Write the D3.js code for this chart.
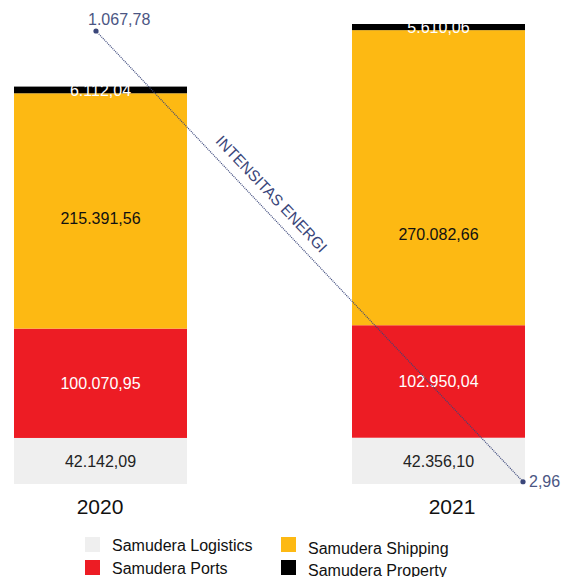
<!DOCTYPE html>
<html>
<head>
<meta charset="utf-8">
<script src="https://cdn.jsdelivr.net/npm/d3@7"></script>
<style>
body { margin: 0; background: #fff; }
svg { display: block; font-family: "Liberation Sans", Arial, sans-serif; }
</style>
</head>
<body>
<svg width="563" height="577"></svg>
<script>
"use strict"

var years     = ["2020", "2021"];
var segments  = ["Samudera Logistics", "Samudera Ports", "Samudera Shipping", "Samudera Property"];
var logistics = [42142.09, 42356.10];
var ports     = [100070.95, 102950.04];
var shipping  = [215391.56, 270082.66];
var property  = [6112.04, 5610.06];
var intensity = [1067.78, 2.96];

var segColors  = ["#efefef", "#ed1c24", "#fdb913", "#000000"];
var labColors  = ["#222", "#fff", "#111", "#fff"];
var lineColor  = "#3a467a";

// where the shipping label sits inside its segment (share of height from the bottom)
var shipLabelAt = [0.47, 0.31];

function fmt(v) {
	var parts = v.toFixed(2).split(".");
	return parts[0].replace(/\B(?=(\d{3})+(?!\d))/g, ".") + "," + parts[1];
}

var svg = d3.select("svg");

// two bars of ~173px with a wide gap
var x = d3.scaleBand().domain(years).range([14, 525]).paddingInner(165 / 338).paddingOuter(0);
var y = d3.scaleLinear().domain([0, 421000]).range([484, 24]);

var rows = years.map(function(yr, i) {
	var r = { year: yr };
	r[segments[0]] = logistics[i];
	r[segments[1]] = ports[i];
	r[segments[2]] = shipping[i];
	r[segments[3]] = property[i];
	return r;
});

var stack = d3.stack().keys(segments)(rows);

var layers = svg.append("g")
	.selectAll("g")
	.data(stack)
	.enter()
	.append("g")
	.style("fill", function(d, i){ return segColors[i]; });

layers.selectAll("rect")
	.data(function(d){ return d; })
	.enter()
	.append("rect")
	.attr("x", function(d){ return x(d.data.year); })
	.attr("width", x.bandwidth())
	.attr("y", function(d){ return y(d[1]); })
	.attr("height", function(d){ return y(d[0]) - y(d[1]); });

// value labels inside the segments
stack.forEach(function(layer, li) {
	svg.append("g")
	  .selectAll("text")
	  .data(layer)
	  .enter()
	  .append("text")
	  .attr("x", function(d){ return x(d.data.year) + x.bandwidth() / 2; })
	  .attr("y", function(d, i){
	  	if (li === 3) return y(d[0]) + 3;
	  	if (li === 2) return y(d[0] + (d[1] - d[0]) * shipLabelAt[i]) + 6;
	  	return (y(d[0]) + y(d[1])) / 2 + 6;
	  })
	  .attr("text-anchor", "middle")
	  .style("font-size", "16px")
	  .style("fill", labColors[li])
	  .text(function(d){ return fmt(d[1] - d[0]); });
});

// year labels
var xYear = d3.scalePoint().domain(years).range([100, 452]);
svg.append("g")
  .selectAll("text")
  .data(years)
  .enter()
  .append("text")
  .attr("x", function(d){ return xYear(d); })
  .attr("y", 514)
  .attr("text-anchor", "middle")
  .style("font-size", "21px")
  .style("fill", "#111")
  .text(function(d){ return d; });

// energy intensity line
var xl = d3.scalePoint().domain(years).range([96, 523]);
var yl = d3.scaleLinear().domain([0, 1067.78]).range([483, 31]);

var pts = years.map(function(yr, i){ return { year: yr, v: intensity[i] }; });

svg.append("path")
  .datum(pts)
  .attr("d", d3.line().x(function(d){ return xl(d.year); }).y(function(d){ return yl(d.v); }))
  .style("fill", "none")
  .style("stroke", lineColor)
  .style("stroke-width", 1.2)
  .style("stroke-dasharray", "1,1");

svg.append("g")
  .selectAll("circle")
  .data(pts)
  .enter()
  .append("circle")
  .attr("cx", function(d){ return xl(d.year); })
  .attr("cy", function(d){ return yl(d.v); })
  .attr("r", 2.6)
  .style("fill", lineColor);

svg.append("text")
  .attr("x", xl(years[0]) - 8)
  .attr("y", yl(intensity[0]) - 6)
  .style("font-size", "16px")
  .style("fill", "#4b5683")
  .text(fmt(intensity[0]));

svg.append("text")
  .attr("x", xl(years[1]) + 6)
  .attr("y", yl(intensity[1]) + 5)
  .style("font-size", "16px")
  .style("fill", "#4b5683")
  .text(fmt(intensity[1]));

var x0 = xl(years[0]), y0 = yl(intensity[0]);
var x1 = xl(years[1]), y1 = yl(intensity[1]);
var theta = Math.atan2(y1 - y0, x1 - x0);
var f = 0.385, off = 10;
var cx = x0 + (x1 - x0) * f + Math.sin(theta) * off;
var cy = y0 + (y1 - y0) * f - Math.cos(theta) * off;
svg.append("text")
  .attr("transform", "translate(" + cx + "," + cy + ") rotate(" + (theta * 180 / Math.PI) + ")")
  .attr("text-anchor", "middle")
  .style("font-size", "15.5px")
  .style("fill", "#3a467a")
  .text("INTENSITAS ENERGI");

// legend
var legPos = [[85, 537], [85, 560], [281, 537], [281, 560]];
var legText = [551, 574, 554, 576];
var leg = svg.append("g")
  .selectAll("g")
  .data(segments)
  .enter()
  .append("g");
leg.append("rect")
  .attr("x", function(d, i){ return legPos[i][0]; })
  .attr("y", function(d, i){ return legPos[i][1]; })
  .attr("width", 15)
  .attr("height", 15)
  .style("fill", function(d, i){ return segColors[i]; });
leg.append("text")
  .attr("x", function(d, i){ return legPos[i][0] + 27; })
  .attr("y", function(d, i){ return legText[i]; })
  .style("font-size", "16px")
  .style("fill", "#111")
  .text(function(d){ return d; });
</script>
</body>
</html>
